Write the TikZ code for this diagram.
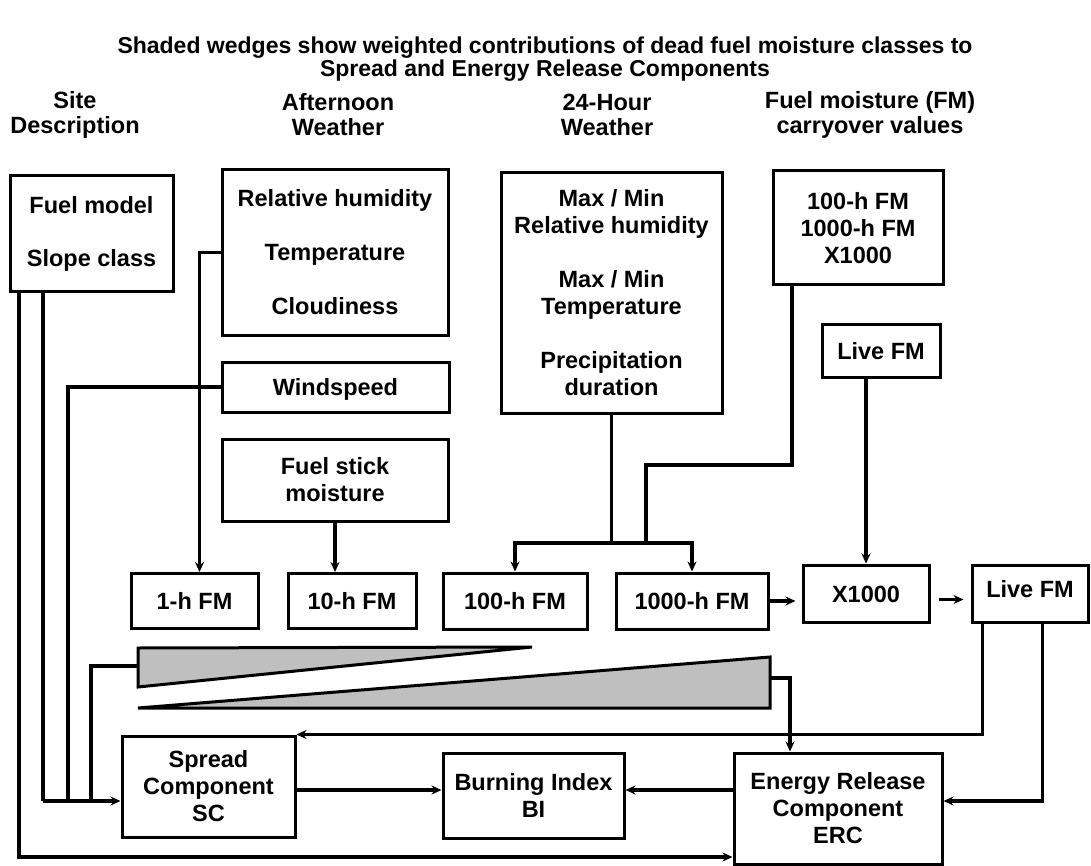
\documentclass[tikz,border=0pt]{standalone}
\usepackage{fontspec}
\setmainfont{Liberation Sans}
\usetikzlibrary{arrows.meta}

\begin{document}
\begin{tikzpicture}[x=1pt, y=-1pt, line width=3pt,
        box/.style={draw, line width=3pt, inner sep=0pt, align=center,
            font=\bfseries\fontsize{23.5}{27}\selectfont},
        fm/.style={box, text height=17pt, text depth=0pt},
        head/.style={align=center, font=\bfseries\fontsize{23.5}{25}\selectfont},
        link/.style={line width=3.3pt},
        arr/.style={link, -{Stealth[length=10pt,width=9pt]}},
        wedge/.style={draw, fill=black!25, line width=3pt}]
    \useasboundingbox (0,0) rectangle (1091,866);

    % title and column heads
    \node[align=center, font=\bfseries\fontsize{23}{21}\selectfont] (title) at (545,59)
        {Shaded wedges show weighted contributions of dead fuel moisture classes to\\
         Spread and Energy Release Components};
    \node[head] (hsite) at (75,115) {Site\\Description};
    \node[head] (haft) at (338,115) {Afternoon\\Weather};
    \node[head] (h24) at (607,115) {24-Hour\\Weather};
    \node[head] (hcarry) at (870,115) {Fuel moisture (FM)\\carryover values};

    % input boxes
    \node[box, minimum width=163, minimum height=116] (site) at (91.5,234)
        {Fuel model\\[26pt]Slope class};
    \node[box, minimum width=226, minimum height=165] (aft) at (335,252.5)
        {Relative humidity\\[27pt]Temperature\\[27pt]Cloudiness};
    \node[fm, minimum width=227, minimum height=50] (wind) at (335.5,387) {Windspeed};
    \node[box, minimum width=226, minimum height=82] (stick) at (335,480) {Fuel stick\\moisture};
    \node[box, minimum width=221, minimum height=240] (tf24) at (611.5,293)
        {Max / Min\\Relative humidity\\[27pt]Max / Min\\Temperature\\[27pt]Precipitation\\duration};
    \node[box, minimum width=170, minimum height=114] (carry) at (858,228)
        {100-h FM\\1000-h FM\\X1000};
    \node[fm, minimum width=118, minimum height=53] (livein) at (881,350.5) {Live FM};

    % moisture classes
    \node[fm, minimum width=127, minimum height=55] (h1) at (194.5,601) {1-h FM};
    \node[fm, minimum width=128, minimum height=55] (h10) at (352,601) {10-h FM};
    \node[fm, minimum width=144, minimum height=56] (h100) at (515,601) {100-h FM};
    \node[fm, minimum width=152, minimum height=56] (h1000) at (692,601) {1000-h FM};
    \node[fm, minimum width=126, minimum height=57] (xk) at (866,593.5) {X1000};
    \node[box, minimum width=116, minimum height=57] (live) at (1030,593.5) {\raisebox{9pt}{Live FM}};

    % outputs
    \node[box, minimum width=173, minimum height=101] (sc) at (208.5,786.5) {Spread\\Component\\SC};
    \node[box, minimum width=181, minimum height=85] (bi) at (533.5,795.5) {Burning Index\\BI};
    \node[box, minimum width=208, minimum height=111] (erc) at (838,808.5)
        {Energy Release\\Component\\ERC};

    % wedges
    \draw[wedge] (138,648) -- (532,647) -- (138,687) -- cycle;
    \draw[wedge] (138,708) -- (770,708) -- (770,657) -- cycle;

    \coordinate (wA) at (138,666);
    \coordinate (wB) at (770,678);
    \coordinate (wBr) at (790,678);
    \coordinate (b1) at (43,801);
    \coordinate (b2) at (68,801);
    \coordinate (b3) at (91,801);
    \coordinate (o1) at (19,857);
    \coordinate (jn) at (610,543);
    \coordinate (cj) at (646,465);
    \coordinate (row) at (0,790);

    % connectors
    \draw[arr] (aft.west) -| ([xshift=5pt]h1.north);
    \draw[arr] (stick.south) -- (stick.south |- h10.north);
    \draw[link] (b1 |- site.south) -- (b1);
    \draw[link] (wind.west) -| (b2);
    \draw[link] (wA) -| (b3);
    \draw[arr] (b1) -- (b1 -| sc.west);
    \draw[arr] (o1 |- site.south) -- (o1) -- (o1 -| erc.west);
    \draw[arr] (tf24.south |- jn) -| (h100.north);
    \draw[arr] (tf24.south) -- (tf24.south |- jn) -| (h1000.north);
    \draw[link] ([xshift=-66pt]carry.south) |- (cj) -- (cj |- jn);
    \draw[arr] (xk.north |- livein.south) -- (xk.north);
    \draw[arr, shorten >=6pt] (h1000.east) -- (h1000.east -| xk.west);
    \draw[arr] ([shift={(8pt,-6pt)}]xk.east) -- ([shift={(-7pt,-6pt)}]live.west);
    \draw[arr] ([xshift=12pt]live.south west) |- (sc.north east);
    \draw[arr] ([xshift=72pt]live.south west) |- ([yshift=7.5pt]erc.east);
    \draw[arr] (wB) -- (wBr) -- (wBr |- erc.north);
    \draw[arr] (sc.east |- row) -- (bi.west |- row);
    \draw[arr] (erc.west |- row) -- (bi.east |- row);
\end{tikzpicture}
\end{document}
